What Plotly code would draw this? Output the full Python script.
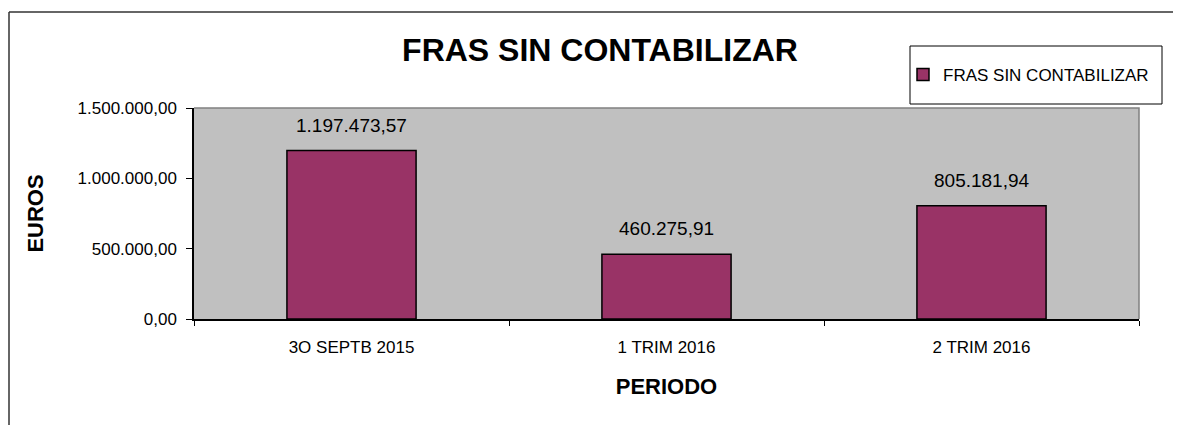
import plotly.graph_objects as go

# ---- data ----
categories = ["3O SEPTB 2015", "1 TRIM 2016", "2 TRIM 2016"]
values = [1197473.57, 460275.91, 805181.94]
series_name = "FRAS SIN CONTABILIZAR"
y_tick_vals = [0, 500000, 1000000, 1500000]

FONT = "Liberation Sans, Arial, sans-serif"
OFF = 8  # default page body margin
W, H = 1181 - OFF, 425 - OFF
# plot area in page pixels: x 194..1139, y 108..319
L, T = 194 - OFF, 108 - OFF
R = W - (1139 - OFF)
B = H - (319 - OFF)
PW, PH = W - L - R, H - T - B


def px_x(px):
    return (px - OFF - L) / PW


def px_y(py):
    return (H - B - (py - OFF)) / PH


def fmt_es(v):
    return f"{v:,.2f}".replace(",", "X").replace(".", ",").replace("X", ".")


fig = go.Figure()
fig.add_trace(go.Bar(
    x=categories, y=values, name=series_name,
    marker=dict(color="#993366", line=dict(color="black", width=1.5)),
    showlegend=True,
))

# data labels
for c, v in zip(categories, values):
    fig.add_annotation(
        x=c, y=v, xref="x", yref="y", text=fmt_es(v),
        showarrow=False, yanchor="bottom", yshift=13,
        font=dict(family=FONT, size=19, color="black"),
    )

shapes = [
    # plot area top/right border (gray)
    dict(type="path", xref="paper", yref="paper",
         path="M 0,1 L 1,1 L 1,0", line=dict(color="#808080", width=1.5)),
    # outer frame (top and left edges of the chart object)
    dict(type="line", xref="paper", yref="paper",
         x0=px_x(9), x1=px_x(1190), y0=px_y(12), y1=px_y(12),
         line=dict(color="#333333", width=1.5)),
    dict(type="line", xref="paper", yref="paper",
         x0=px_x(9), x1=px_x(9), y0=px_y(12), y1=px_y(440),
         line=dict(color="#333333", width=1.5)),
    # legend box
    dict(type="rect", xref="paper", yref="paper",
         x0=px_x(910), x1=px_x(1162), y0=px_y(104), y1=px_y(46),
         line=dict(color="black", width=1), fillcolor="white", layer="below"),
]

fig.update_layout(
    width=W, height=H,
    margin=dict(l=L, r=R, t=T, b=B, autoexpand=False),
    paper_bgcolor="white", plot_bgcolor="#C0C0C0",
    separators=",.",
    bargap=0.59,
    font=dict(family=FONT, color="black"),
    title=dict(text="<b>FRAS SIN CONTABILIZAR</b>", x=(600 - OFF) / W, xref="container", xanchor="center",
               y=1 - (50 - OFF) / H, yref="container", yanchor="middle",
               font=dict(family=FONT, size=32, color="black")),
    legend=dict(x=px_x(903), y=px_y(75), xanchor="left", yanchor="middle",
                bgcolor="rgba(0,0,0,0)", borderwidth=0,
                font=dict(family=FONT, size=17, color="black")),
    shapes=shapes,
    xaxis=dict(
        showline=True, linecolor="black", linewidth=1.5,
        ticks="outside", tickson="boundaries", ticklen=5, tickcolor="black",
        tickfont=dict(family=FONT, size=17), ticklabelstandoff=12,
        showgrid=False,
        title=dict(text="<b>PERIODO</b>", font=dict(family=FONT, size=22), standoff=22),
    ),
    yaxis=dict(
        range=[0, 1500000], tickvals=y_tick_vals, tickformat=",.2f",
        showline=True, linecolor="black", linewidth=1.5,
        ticks="outside", ticklen=6, tickcolor="black",
        tickfont=dict(family=FONT, size=17), ticklabelstandoff=6,
        showgrid=False, zeroline=False,
        title=dict(text="<b>EUROS</b>", font=dict(family=FONT, size=22), standoff=28),
    ),
)

fig.write_html("out.html")
